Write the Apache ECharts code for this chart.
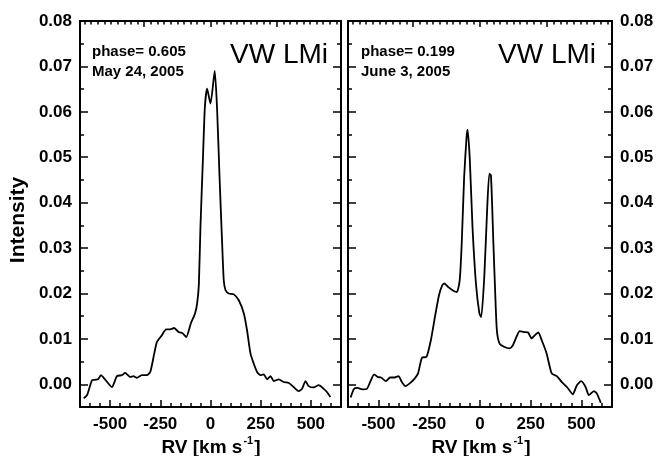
<!DOCTYPE html>
<html><head><meta charset="utf-8">
<script src="https://cdn.jsdelivr.net/npm/echarts@6/dist/echarts.min.js"></script>
<style>html,body{margin:0;padding:0;background:#fff}#c{width:657px;height:456px}</style>
</head><body><div id="c"></div>
<script>
// ---- data (RV km/s, intensity) ----
const rvLeft = [-632,-615,-590,-574,-560,-546,-524,-491,-466,-441,-425,-400,-384,-367,-342,-317,-300,-280,-267,-242,-221,-201,-181,-159,-138,-121,-98,-77,-66,-58,-50,-38,-28,-17,0,21,33,45,58,66,75,91,116,141,166,182,199,215,232,249,265,282,299,315,340,365,390,414,439,456,473,489,514,539,564,580,597];
const intLeft = [-0.0031,-0.0024,0.0009,0.0010,0.0011,0.0020,0.0010,-0.0006,0.0018,0.0020,0.0025,0.0016,0.0018,0.0014,0.0020,0.0020,0.0027,0.0068,0.0093,0.0108,0.0121,0.0121,0.0124,0.0115,0.0112,0.0104,0.0134,0.0156,0.0180,0.0220,0.0347,0.0493,0.0611,0.0651,0.0618,0.0690,0.0604,0.0457,0.0310,0.0229,0.0207,0.0200,0.0198,0.0185,0.0156,0.0119,0.0068,0.0046,0.0027,0.0020,0.0022,0.0011,0.0018,0.0007,0.0011,0.0005,0.0003,-0.0006,-0.0015,-0.0010,0.0007,-0.0004,-0.0007,-0.0002,-0.0010,-0.0017,-0.0028];
const rvRight = [-637,-620,-604,-579,-557,-541,-521,-504,-487,-463,-443,-421,-401,-385,-368,-346,-321,-305,-285,-264,-242,-222,-202,-186,-175,-156,-131,-114,-100,-90,-78,-66,-61,-50,-37,-20,-3,6,21,35,46,54,66,75,83,96,121,146,162,179,196,221,237,254,270,287,304,328,353,378,403,428,457,477,498,520,536,561,575,595];
const intRight = [-0.0029,-0.0010,-0.0008,-0.0011,-0.0010,0.0005,0.0022,0.0016,0.0015,0.0007,0.0015,0.0015,0.0018,0.0005,-0.0004,0.0002,0.0013,0.0024,0.0059,0.0060,0.0097,0.0148,0.0196,0.0218,0.0222,0.0214,0.0206,0.0203,0.0229,0.0310,0.0457,0.0545,0.0561,0.0493,0.0347,0.0222,0.0156,0.0148,0.0236,0.0383,0.0464,0.0460,0.0310,0.0200,0.0119,0.0090,0.0082,0.0079,0.0086,0.0104,0.0117,0.0115,0.0114,0.0101,0.0108,0.0114,0.0097,0.0068,0.0024,0.0018,0.0005,-0.0006,-0.0022,-0.0002,0.0007,-0.0006,-0.0024,-0.0015,-0.0020,-0.0041];

// ---- ticks / labels ----
const xMajor = [-500,-250,0,250,500];
const xMinor = [-600,-550,-450,-400,-350,-300,-200,-150,-100,-50,50,100,150,200,300,350,400,450,550,600];
const topMajor = [-330,0,330];
const topMinor = [-627,-594,-561,-528,-495,-462,-429,-396,-363,-297,-264,-231,-198,-165,-132,-99,-66,-33,33,66,99,132,165,198,231,264,297,363,396,429,462,495,528,561,594,627];
const yMajor = [0,0.01,0.02,0.03,0.04,0.05,0.06,0.07,0.08];
const yMinor = [-0.005,0.005,0.015,0.025,0.035,0.045,0.055,0.065,0.075];
const panels = [
  {phase:'phase= 0.605', date:'May 24, 2005', star:'VW LMi'},
  {phase:'phase= 0.199', date:'June 3, 2005', star:'VW LMi'}
];

const FONT = 'Liberation Sans, Arial, Helvetica, sans-serif';
const grids = [
  {left:80, top:21, width:261, height:386},
  {left:348, top:21, width:264, height:386}
];
const lineStyle = {color:'#000', width:2};
const xAxes = [], yAxes = [];
grids.forEach((g, i) => {
  const base = {type:'value', gridIndex:i, min:-650, max:650, splitLine:{show:false}};
  xAxes.push(Object.assign({}, base, {position:'bottom',
    axisLine:{show:true, onZero:false, lineStyle},
    axisTick:{show:true, inside:true, length:7, customValues:xMajor, lineStyle:{color:'#000', width:1.5}},
    axisLabel:{show:true, customValues:xMajor, margin:9, color:'#000', fontFamily:FONT, fontWeight:'bold', fontSize:17}}));
  xAxes.push(Object.assign({}, base, {position:'bottom',
    axisLine:{show:false, onZero:false},
    axisTick:{show:true, inside:true, length:4, customValues:xMinor, lineStyle:{color:'#000', width:1.5}},
    axisLabel:{show:false}}));
  xAxes.push(Object.assign({}, base, {position:'top',
    axisLine:{show:true, onZero:false, lineStyle},
    axisTick:{show:true, inside:true, length:6, customValues:topMajor, lineStyle:{color:'#000', width:1.5}},
    axisLabel:{show:false}}));
  xAxes.push(Object.assign({}, base, {position:'top',
    axisLine:{show:false, onZero:false},
    axisTick:{show:true, inside:true, length:3.5, customValues:topMinor, lineStyle:{color:'#000', width:1.5}},
    axisLabel:{show:false}}));
  const ybase = {type:'value', gridIndex:i, min:-0.005, max:0.08, splitLine:{show:false}};
  ['left','right'].forEach(pos => {
    const lab = (i===0 && pos==='left') || (i===1 && pos==='right');
    yAxes.push(Object.assign({}, ybase, {position:pos,
      axisLine:{show:true, onZero:false, lineStyle},
      axisTick:{show:true, inside:true, length:8, customValues:yMajor, lineStyle:{color:'#000', width:1.5}},
      axisLabel:{show:lab, customValues:yMajor, margin:8, color:'#000', fontFamily:FONT, fontWeight:'bold', fontSize:17,
        formatter:v => v.toFixed(2)}}));
    yAxes.push(Object.assign({}, ybase, {position:pos,
      axisLine:{show:false, onZero:false},
      axisTick:{show:true, inside:true, length:4, customValues:yMinor, lineStyle:{color:'#000', width:1.5}},
      axisLabel:{show:false}}));
  });
});

const series = [
  {type:'line', xAxisIndex:0, yAxisIndex:0, data:rvLeft.map((v,k)=>[v,intLeft[k]])},
  {type:'line', xAxisIndex:4, yAxisIndex:4, data:rvRight.map((v,k)=>[v,intRight[k]])}
].map(s => Object.assign(s, {showSymbol:false, symbol:'none', smooth:0.2, clip:true,
  lineStyle:{color:'#000', width:1.8}, animation:false}));

const graphic = [];
const txt = (x, y, text, font, align, extra) => Object.assign({type:'text', x, y, silent:true,
  style:{text, font, fill:'#000', align:align||'left', verticalAlign:'middle'}}, extra||{});
[[92,360],[230,498]].forEach((xs,i)=>{});
const annX = [92, 361], starX = [230, 498];
panels.forEach((p,i)=>{
  graphic.push(txt(annX[i], 52, p.phase, 'bold 15px '+FONT));
  graphic.push(txt(annX[i], 72, p.date, 'bold 15px '+FONT));
  graphic.push(txt(starX[i], 55, p.star, '28px '+FONT));
});
graphic.push(txt(18, 220, 'Intensity', 'bold 21px '+FONT, 'center', {rotation:Math.PI/2}));
[211, 481].forEach(cx => {
  graphic.push({type:'text', x:cx, y:446, silent:true, style:{
    text:'{a|RV [km s}{s|-1}{a|]}', align:'center', verticalAlign:'middle', fill:'#000',
    rich:{a:{fontFamily:FONT, fontWeight:'bold', fontSize:19, lineHeight:22, verticalAlign:'bottom'},
          s:{fontFamily:FONT, fontWeight:'bold', fontSize:11, lineHeight:22, verticalAlign:'top', padding:[0,1,0,1]}}}});
});

const chart = echarts.init(document.getElementById('c'), null, {renderer:'canvas'});
chart.setOption({animation:false, backgroundColor:'#fff', grid:grids, xAxis:xAxes, yAxis:yAxes, series, graphic});
</script></body></html>
